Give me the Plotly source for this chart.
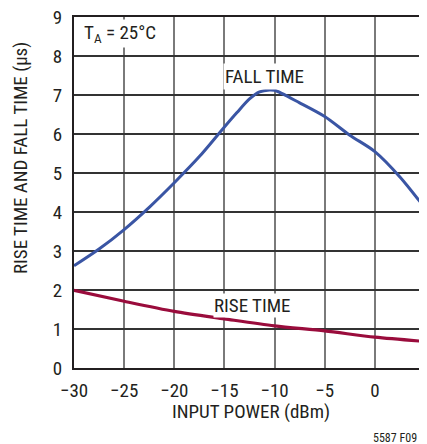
import plotly.graph_objects as go

x_fall = [-30, -27.5, -25, -22.5, -20, -17.5, -15, -13.75, -12.5, -11.5, -10.5, -10, -7.5, -5, -2.5, 0, 2.5, 5]
y_fall = [2.62, 3.05, 3.55, 4.12, 4.75, 5.42, 6.18, 6.55, 6.9, 7.08, 7.13, 7.12, 6.8, 6.45, 5.97, 5.55, 4.9, 4.1]

x_rise = [-30, -25, -20, -15, -10, -5, 0, 5]
y_rise = [1.99, 1.71, 1.45, 1.26, 1.08, 0.95, 0.79, 0.68]

x_ticks = [-30, -25, -20, -15, -10, -5, 0, 5]
x_ticklabels = ["\u221230", "\u221225", "\u221220", "\u221215", "\u221210", "\u22125", "0", "5"]
y_ticks = list(range(0, 10))

FONT = "Liberation Sans Narrow, Arial Narrow, Roboto Condensed, Liberation Sans, sans-serif"
TXT = "#231f20"

fig = go.Figure()
fig.add_trace(go.Scatter(x=x_fall, y=y_fall, mode="lines", line=dict(color="#3a55a4", width=3, shape="spline", smoothing=0.8), showlegend=False))
fig.add_trace(go.Scatter(x=x_rise, y=y_rise, mode="lines", line=dict(color="#9a0c3c", width=3.2, shape="spline", smoothing=0.8), showlegend=False))

# page body has an 8px margin, so the figure is sized/offset accordingly
fig.update_layout(
    width=419, height=436,
    margin=dict(l=66, r=2, t=9, b=76, autoexpand=False),
    plot_bgcolor="white", paper_bgcolor="white",
    font=dict(family=FONT, size=19, color=TXT),
    xaxis=dict(range=[-30, 5], tickvals=x_ticks, ticktext=x_ticklabels, showgrid=True,
               gridcolor="#7a7a7a", gridwidth=1.5, showline=True, linecolor=TXT, linewidth=2,
               mirror=True, ticks="", zeroline=False, ticklabelstandoff=4,
               ticklabeloverflow="allow", automargin=False),
    yaxis=dict(range=[0, 9], tickvals=y_ticks, showgrid=True, gridcolor="#333333", gridwidth=1.5,
               showline=True, linecolor=TXT, linewidth=2, mirror=True, ticks="", zeroline=False,
               ticklabelstandoff=6, ticklabeloverflow="allow", automargin=False),
)

fig.add_annotation(x=-0.154, y=0.598, xref="paper", yref="paper", text="RISE TIME AND FALL TIME (\u00b5s)",
                   textangle=-90, showarrow=False, xanchor="center", yanchor="middle", font=dict(size=19))
fig.add_annotation(x=0.504, y=-0.125, xref="paper", yref="paper", text="INPUT POWER (dBm)",
                   showarrow=False, xanchor="center", yanchor="middle", font=dict(size=19))
fig.add_annotation(x=-29.2, y=8.95, xref="x", yref="y", text="T<sub>A</sub> = 25°C", showarrow=False,
                   xanchor="left", yanchor="top", bgcolor="white", font=dict(size=19))
fig.add_annotation(x=-10.96, y=7.48, xref="x", yref="y", text="FALL TIME", showarrow=False,
                   bgcolor="white", borderpad=1, font=dict(size=19))
fig.add_annotation(x=-12.25, y=1.6, xref="x", yref="y", text="RISE TIME", showarrow=False,
                   bgcolor="white", borderpad=0, font=dict(size=19))
fig.add_annotation(x=0.983, y=-0.199, xref="paper", yref="paper", text="5587 F09", showarrow=False,
                   xanchor="right", yanchor="middle", font=dict(size=12))

fig.write_html("out.html")
